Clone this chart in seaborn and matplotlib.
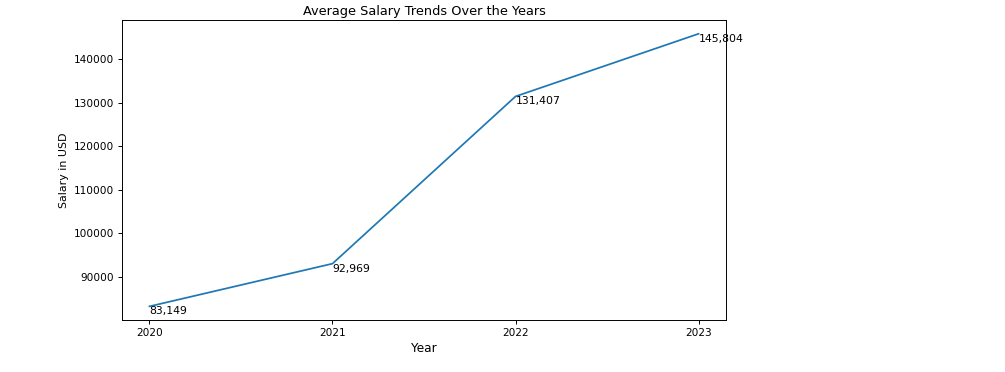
import matplotlib
matplotlib.use("Agg")
import matplotlib.pyplot as plt
import seaborn as sns
import pandas as pd

# data
years = [2020, 2021, 2022, 2023]
avg_salary = [83149, 92969, 131407, 145804]

df = pd.DataFrame({"Year": years, "Salary": avg_salary})

fig = plt.figure(figsize=(10.05, 3.72), dpi=100)
ax = fig.add_axes([0.1214, 0.1398, 0.601, 0.806])

sns.lineplot(data=df, x="Year", y="Salary", ax=ax, color="#1f77b4", linewidth=1.25)

# label every point with its value
for x, y in zip(years, avg_salary):
    ax.text(x, y, f"{y:,}", ha="left", va="top", fontsize=7.8)

ax.set_xticks(years)
ax.tick_params(labelsize=7.6, length=2.8, width=0.7, pad=3)
for sp in ax.spines.values():
    sp.set_linewidth(0.7)
ax.set_title("Average Salary Trends Over the Years", fontsize=9.3, pad=4)
ax.set_xlabel("Year", fontsize=8.7, labelpad=3)
ax.set_ylabel("Salary in USD", fontsize=7.9, labelpad=3)

fig.savefig("out.png", dpi=100)
